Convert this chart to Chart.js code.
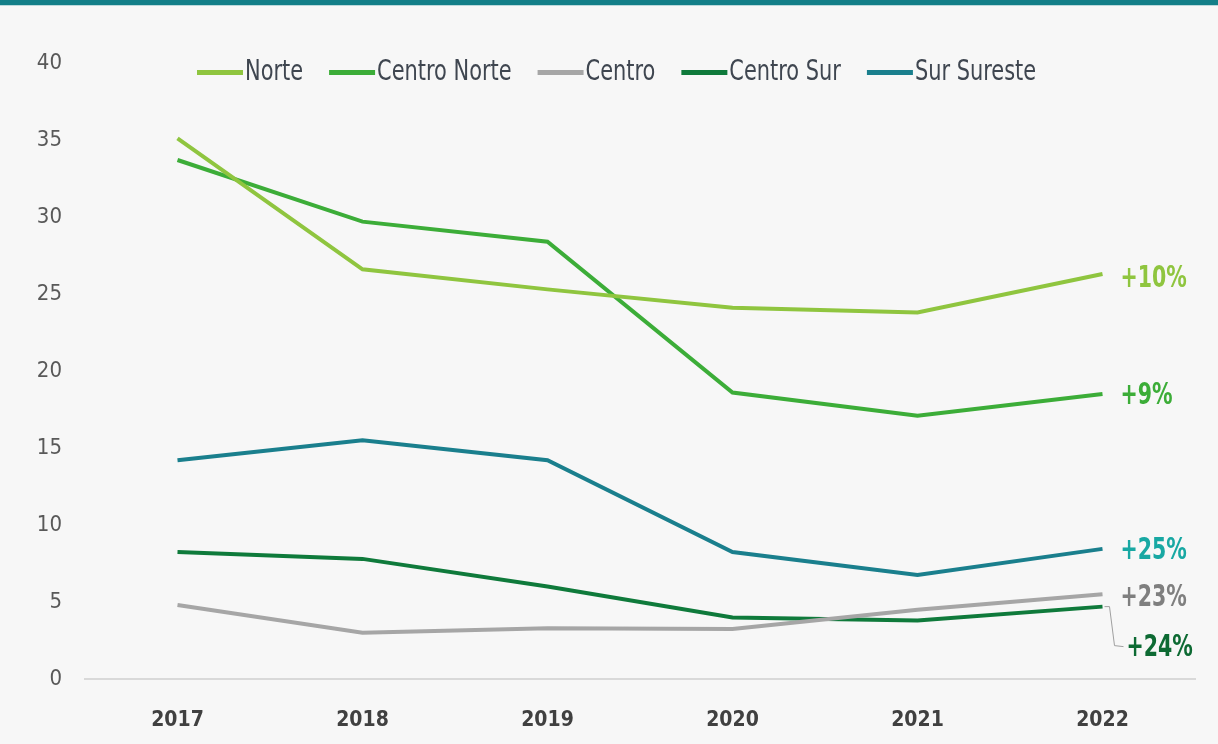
<!DOCTYPE html>
<html>
<head>
<meta charset="utf-8">
<script src="https://cdn.jsdelivr.net/npm/chart.js@4.4.0/dist/chart.umd.min.js"></script>
<style>
    body { margin: 0; background: #f7f7f7; }
    #caja { width: 1218px; height: 744px; }
</style>
</head>
<body>
<div id="caja"><canvas id="chartLinha"></canvas></div>
<script>
var anos = ['2017', '2018', '2019', '2020', '2021', '2022']
var regiones = ['Norte', 'Centro Norte', 'Centro', 'Centro Sur', 'Sur Sureste']

var norte = [35.1, 26.6, 25.3, 24.1, 23.8, 26.3]
var centroNorte = [33.7, 29.7, 28.4, 18.6, 17.1, 18.5]
var centro = [4.8, 3.0, 3.3, 3.25, 4.5, 5.5]
var centroSur = [8.25, 7.8, 6.0, 4.0, 3.8, 4.7]
var surSureste = [14.2, 15.5, 14.2, 8.25, 6.75, 8.45]

var variacion = ['+10%', '+9%', '+23%', '+24%', '+25%']

var colores = ['#8fc53f', '#3cad38', '#a6a6a6', '#0f7a3b', '#1a7f8d']
var coresTexto = ['#8fc53f', '#3cad38', '#7f7f7f', '#0d6a33', '#18a8a3']

var fonteEstreita = '"Liberation Sans Narrow", "DejaVu Sans Condensed", sans-serif'

function serie(i, valores) {
    return {
        label: regiones[i],
        data: valores,
        borderColor: colores[i],
        backgroundColor: colores[i],
        borderWidth: 4,
        pointRadius: 0,
        tension: 0
    }
}

var dados = {
    labels: anos,
    datasets: [
        serie(0, norte),
        serie(1, centroNorte),
        serie(2, centro),
        serie(3, centroSur),
        serie(4, surSureste)
    ]
}

// texto "apertado" na horizontal, para imitar a fonte condensada
function textoEstreito(ctx, texto, x, y, fator) {
    ctx.save()
    ctx.translate(x, y)
    ctx.scale(fator, 1)
    ctx.fillText(texto, 0, 0)
    ctx.restore()
    return ctx.measureText(texto).width * fator
}

// fundo + faixa azul de cima
var fundo = {
    id: 'fundo',
    beforeDraw: function (chart) {
        var ctx = chart.ctx
        ctx.save()
        ctx.fillStyle = '#f7f7f7'
        ctx.fillRect(0, 0, chart.width, chart.height)
        ctx.fillStyle = '#137f88'
        ctx.fillRect(0, 0, chart.width, 5)
        ctx.fillStyle = '#bcd9dc'
        ctx.fillRect(0, 5, chart.width, 1)
        ctx.restore()
    }
}

// legenda desenhada dentro da area do grafico
var legenda = {
    id: 'legenda',
    afterDraw: function (chart) {
        var ctx = chart.ctx
        var x = 197
        var y = 72
        ctx.save()
        ctx.font = '28px ' + fonteEstreita
        ctx.textBaseline = 'middle'
        chart.data.datasets.forEach(function (ds) {
            ctx.fillStyle = ds.borderColor
            ctx.fillRect(x, y - 2, 46, 5)
            x += 48
            ctx.fillStyle = '#3f4650'
            x += textoEstreito(ctx, ds.label, x, y + 1, 0.83) + 26
        })
        ctx.restore()
    }
}

// rotulos de variacao no fim das linhas
var rotulos = {
    id: 'rotulos',
    afterDatasetsDraw: function (chart) {
        var ctx = chart.ctx
        var sx = chart.scales.x
        var sy = chart.scales.y
        var ultimo = anos.length - 1
        var xFim = sx.getPixelForValue(ultimo)
        var desloc = [5, 2, 4, 42, 2]
        var dx = [18, 18, 18, 24, 18]
        ctx.save()
        ctx.font = 'bold 30px ' + fonteEstreita
        ctx.textBaseline = 'middle'
        for (var i = 0; i < dados.datasets.length; i++) {
            var v = dados.datasets[i].data[ultimo]
            var yv = sy.getPixelForValue(v)
            ctx.fillStyle = coresTexto[i]
            textoEstreito(ctx, variacion[i], xFim + dx[i], yv + desloc[i], 0.76)
        }
        // linha guia do +24%
        var yc = sy.getPixelForValue(centroSur[ultimo])
        ctx.strokeStyle = '#a0a0a0'
        ctx.lineWidth = 1
        ctx.beginPath()
        ctx.moveTo(xFim + 2, yc)
        ctx.lineTo(xFim + 7, yc)
        ctx.lineTo(xFim + 12, yc + 39)
        ctx.lineTo(xFim + 21, yc + 40)
        ctx.stroke()
        ctx.restore()
    }
}

var ctx = document.getElementById('chartLinha')

var lineChart = new Chart(ctx, {
    type: 'line',
    data: dados,
    plugins: [fundo, legenda, rotulos],
    options: {
        responsive: true,
        maintainAspectRatio: false,
        animation: false,
        layout: {
            padding: { top: 63, right: 23, bottom: 0, left: 0 }
        },
        scales: {
            x: {
                offset: true,
                grid: { display: false, drawTicks: false },
                border: { display: true, color: '#d9d9d9', width: 2 },
                ticks: {
                    color: '#404040',
                    padding: 29,
                    font: { family: fonteEstreita, size: 21, weight: 'bold' }
                },
                afterFit: function (scale) { scale.height = 65 }
            },
            y: {
                min: 0,
                max: 40,
                grid: { display: false, drawTicks: false },
                border: { display: false },
                ticks: {
                    stepSize: 5,
                    color: '#595959',
                    padding: 23,
                    font: { family: fonteEstreita, size: 22 }
                },
                afterFit: function (scale) { scale.width = 85 }
            }
        },
        plugins: {
            legend: { display: false },
            tooltip: { enabled: false }
        }
    }
});
</script>
</body>
</html>
